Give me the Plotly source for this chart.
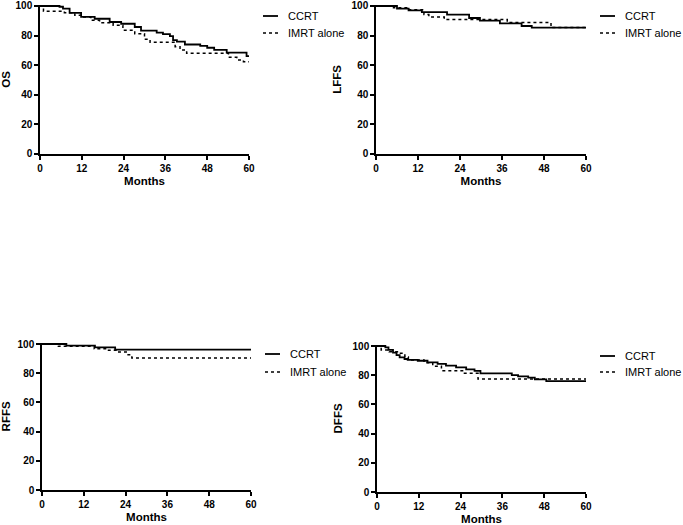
import plotly.graph_objects as go

# ---------------- data (Kaplan-Meier step points: months, survival %) ----------------
os_ccrt_t = [0, 5.6, 6.6, 8.5, 11.8, 15.7, 20, 23.3, 27.2, 29, 33.5, 35.3, 37.3, 38.2, 39.3, 41.6, 46, 48, 50, 53.6, 59.3, 60]
os_ccrt_s = [100, 99.5, 98.2, 95.3, 92.6, 91.4, 89.2, 88, 85.8, 83.3, 82, 81, 79.7, 77, 75.9, 74, 73, 71.8, 70.3, 68.5, 66.2, 66.2]
os_imrt_t = [0, 1, 7, 10, 12, 14.6, 17.1, 21, 23.8, 27.2, 30, 31.6, 38.8, 40.2, 42.1, 54.1, 56.5, 58.4, 60]
os_imrt_s = [100, 96.4, 95.5, 93.7, 92.6, 90.3, 88.7, 87, 83.6, 81.3, 77.5, 75.5, 72.5, 70.3, 68, 65.3, 63.5, 62.4, 62.4]

lffs_ccrt_t = [0, 6, 9.3, 13.1, 20.3, 26.6, 29.7, 35.4, 41.6, 44.5, 60]
lffs_ccrt_s = [100, 98.2, 97.1, 95.9, 94.2, 91.9, 90.1, 88.3, 86.5, 85.4, 85.4]
lffs_imrt_t = [0, 5, 9.5, 13.7, 15.1, 19.5, 37.5, 50, 60]
lffs_imrt_s = [100, 98.9, 97.5, 94.2, 92.6, 90.8, 88.8, 85.4, 85.4]

rffs_ccrt_t = [0, 7, 15.2, 21, 60]
rffs_ccrt_s = [100, 98.9, 97.7, 96.1, 96.1]
rffs_imrt_t = [0, 4.7, 15, 18.5, 21.5, 24.5, 25.8, 60]
rffs_imrt_s = [100, 98.4, 96.8, 95.7, 94.5, 92.7, 90.4, 90.4]

dffs_ccrt_t = [0, 2.4, 3.3, 4.6, 5.6, 6.5, 7.9, 8.8, 11.7, 14.5, 17.4, 19.8, 22.7, 25.6, 28, 29.7, 38.7, 40.5, 43.4, 45.3, 48.6, 60]
dffs_ccrt_s = [100, 99.1, 97.3, 95.4, 93.8, 92.2, 91.1, 90.5, 89.9, 88.8, 87.7, 86.5, 85.4, 84.0, 82.9, 81.3, 80.1, 79.2, 78.3, 77.2, 76.0, 76.0]
dffs_imrt_t = [0, 1.2, 3.5, 6.5, 8, 9, 13.5, 16, 18.5, 24.8, 29, 60]
dffs_imrt_s = [100, 97.3, 96, 95, 92.5, 90.4, 88.6, 86.2, 83.1, 81.3, 77.4, 77.4]

panels = [
    ("OS", os_ccrt_t, os_ccrt_s, os_imrt_t, os_imrt_s),
    ("LFFS", lffs_ccrt_t, lffs_ccrt_s, lffs_imrt_t, lffs_imrt_s),
    ("RFFS", rffs_ccrt_t, rffs_ccrt_s, rffs_imrt_t, rffs_imrt_s),
    ("DFFS", dffs_ccrt_t, dffs_ccrt_s, dffs_imrt_t, dffs_imrt_s),
]
series_names = ["CCRT", "IMRT alone"]
x_ticks = [0, 12, 24, 36, 48, 60]
y_ticks = [0, 20, 40, 60, 80, 100]

# ---------------- layout geometry (pixels) ----------------
W, H = 683, 525
# (x_left, x_right, y_top_for_100, y_bottom_for_0)
boxes = [(40, 249, 6, 154), (376, 586, 6, 154), (42, 251, 344, 490), (377, 586, 346, 492)]
legend_pos = [(263, 16, 33), (600, 16, 33), (265, 354, 372), (600, 356, 372)]
YMAX = 100.8

FONT = "Arial, Liberation Sans, sans-serif"
fig = go.Figure()
shapes, annotations = [], []

for i, (name, ct, cs, it, is_) in enumerate(panels):
    k = "" if i == 0 else str(i + 1)
    xa, ya = "x" + k, "y" + k
    fig.add_trace(go.Scatter(x=ct, y=cs, mode="lines", line=dict(shape="hv", color="black", width=1.8),
                             name=series_names[0], showlegend=False, xaxis=xa, yaxis=ya))
    fig.add_trace(go.Scatter(x=it, y=is_, mode="lines", line=dict(shape="hv", color="black", width=1.5, dash="dot"),
                             name=series_names[1], showlegend=False, xaxis=xa, yaxis=ya))
    x0, x1, ytop, ybot = boxes[i]
    ppu = (ybot - ytop) / 100.0
    ytop_dom = ybot - YMAX * ppu
    axcommon = dict(showgrid=False, zeroline=False, showline=True, linecolor="black", linewidth=1.5,
                    ticks="outside", ticklen=4, tickwidth=1.5, tickcolor="black", automargin=False,
                    tickfont=dict(family=FONT, size=10, color="black", weight="bold"))
    fig.update_layout(**{
        "xaxis" + k: dict(domain=[x0 / W, x1 / W], range=[0, 60], tickvals=x_ticks,
                          anchor=ya,
                          title=dict(text="<b>Months</b>", font=dict(family=FONT, size=11.5, color="black"), standoff=4),
                          **axcommon),
        "yaxis" + k: dict(domain=[1 - ybot / H, 1 - ytop_dom / H], range=[0, YMAX], tickvals=y_ticks,
                          anchor=xa,
                          title=dict(text="<b>%s</b>" % name, font=dict(family=FONT, size=11.5, color="black"), standoff=8),
                          **axcommon),
    })
    lx, ly1, ly2 = legend_pos[i]
    for j, (ly, dash, lw) in enumerate([(ly1, "solid", 1.8), (ly2, "dot", 1.5)]):
        shapes.append(dict(type="line", xref="paper", yref="paper", x0=lx / W, x1=(lx + 15) / W,
                           y0=1 - ly / H, y1=1 - ly / H, line=dict(color="black", width=lw, dash=dash)))
        annotations.append(dict(xref="paper", yref="paper", x=(lx + 23) / W, y=1 - ly / H, text=series_names[j],
                                showarrow=False, xanchor="left", yanchor="middle",
                                font=dict(family=FONT, size=11, color="black")))

fig.update_layout(width=W, height=H, margin=dict(l=0, r=0, t=0, b=0, autoexpand=False), autosize=False,
                  paper_bgcolor="white", plot_bgcolor="white", showlegend=False,
                  shapes=shapes, annotations=annotations)
fig.write_html("out.html", config={"displayModeBar": False},
               post_script="document.body.style.margin='0';document.body.style.overflow='hidden';")
